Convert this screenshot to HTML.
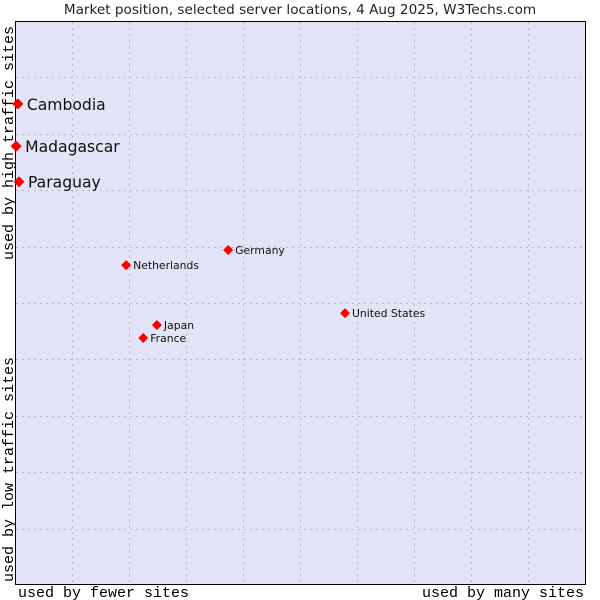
<!DOCTYPE html>
<html><head><meta charset="utf-8"><style>
body{margin:0;background:#fff;width:600px;height:600px;overflow:hidden}
svg{display:block}
</style></head><body>
<svg id="chart" width="600" height="600" xmlns="http://www.w3.org/2000/svg">
<text x="300" y="14" text-anchor="middle" font-family="DejaVu Sans, sans-serif" font-size="13.6" fill="#222">Market position, selected server locations, 4 Aug 2025, W3Techs.com</text>
<rect x="15.5" y="21.5" width="570" height="563" fill="#e3e4f8" stroke="#000" stroke-width="1"/>
<g id="grid"></g>
<text x="18" y="597" font-family="Liberation Mono, monospace" font-size="15" fill="#000">used by fewer sites</text>
<text x="584" y="597" text-anchor="end" font-family="Liberation Mono, monospace" font-size="15" fill="#000">used by many sites</text>
<text transform="translate(13,582) rotate(-90)" font-family="Liberation Mono, monospace" font-size="15" fill="#000">used by low traffic sites</text>
<text transform="translate(13,260) rotate(-90)" font-family="Liberation Mono, monospace" font-size="15" fill="#000">used by high traffic sites</text>
<g id="points"></g>
</svg>
<script>
const countries = ["Cambodia","Madagascar","Paraguay","Germany","Netherlands","United States","Japan","France"];
const xValues = [0.5, 0.2, 0.7, 37.4, 19.5, 57.9, 24.9, 22.5];
const yValues = [85.3, 77.8, 71.5, 59.4, 56.7, 48.2, 46.1, 43.8];
const bigLabel = [true, true, true, false, false, false, false, false];
const ns = "http://www.w3.org/2000/svg";
const X0 = 15, X1 = 585, Y0 = 585, Y1 = 21;
const xs = v => X0 + (X1 - X0) * v / 100;
const ys = v => Y0 - (Y0 - Y1) * v / 100;
const grid = document.getElementById('grid');
for (let i = 1; i < 10; i++) {
  const gx = Math.round(xs(i * 10)) + 0.5, gy = Math.round(ys(i * 10)) + 0.5;
  const v = document.createElementNS(ns, 'line');
  
  
  v.setAttribute('x1', gx); v.setAttribute('x2', gx); v.setAttribute('y1', 22); v.setAttribute('y2', 584);
  v.setAttribute('stroke', '#bcbcc8'); v.setAttribute('stroke-dasharray', '2,4');
  grid.appendChild(v);
  const h = document.createElementNS(ns, 'line');
  
  
  h.setAttribute('x1', 16); h.setAttribute('x2', 585); h.setAttribute('y1', gy); h.setAttribute('y2', gy);
  h.setAttribute('stroke', '#bcbcc8'); h.setAttribute('stroke-dasharray', '2,4');
  grid.appendChild(h);
}
const pts = document.getElementById('points');
countries.forEach((c, i) => {
  const cx = xs(xValues[i]), cy = ys(yValues[i]);
  const r = bigLabel[i] ? 4.5 : 4;
  const d = document.createElementNS(ns, 'polygon');
  
  
  d.setAttribute('points', `${cx},${cy-r} ${cx+r},${cy} ${cx},${cy+r} ${cx-r},${cy}`);
  d.setAttribute('fill', '#f00');
  d.setAttribute('stroke', '#f00');
  d.setAttribute('stroke-width', '1.5');
  d.setAttribute('stroke-linejoin', 'round');
  pts.appendChild(d);
  const t = document.createElementNS(ns, 'text');
  
  
  t.setAttribute('x', cx + (bigLabel[i] ? 9 : 7));
  t.setAttribute('y', cy + (bigLabel[i] ? 6 : 4));
  t.setAttribute('font-family', 'DejaVu Sans, sans-serif');
  t.setAttribute('font-size', bigLabel[i] ? 15.6 : 10.8);
  t.setAttribute('fill', '#111');
  t.textContent = c;
  pts.appendChild(t);
});
</script>
</body></html>
